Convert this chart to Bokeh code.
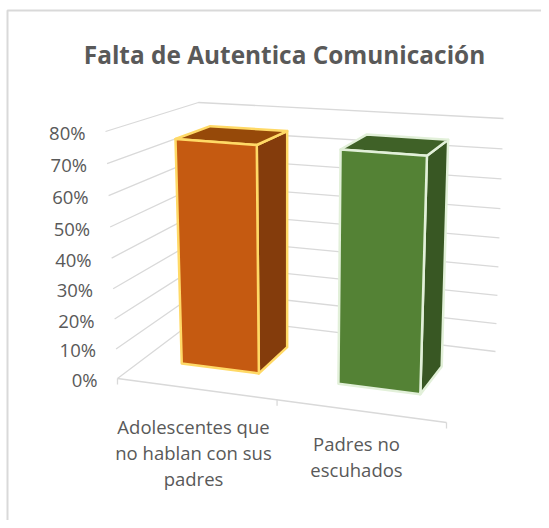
from bokeh.plotting import figure
from bokeh.embed import file_html
from bokeh.resources import INLINE
from bokeh.core.properties import value

title_text = "Falta de Autentica Comunicación"
categories = ["Adolescentes que\nno hablan con sus\npadres", "Padres no\nescuhados"]
values = [0.755, 0.76]
tick_values = [0, 0.1, 0.2, 0.3, 0.4, 0.5, 0.6, 0.7, 0.8]
tick_labels = ["0%", "10%", "20%", "30%", "40%", "50%", "60%", "70%", "80%"]
front_colors = ["#C55A11", "#548235"]
side_colors = ["#843C0C", "#385723"]
top_colors = ["#964909", "#3F6127"]
edge_colors = ["#FFD966", "#E2F0D9"]

FONT = "Open Sans"
TEXT = "#595959"
GRID = "#D9D9D9"
W, H = 541, 520
VMAX = 0.8

C = {(0, 0, 0): (117, 378), (1, 0, 0): (446, 422), (0, 1, 0): (200, 315.5), (1, 1, 0): (495, 351),
     (0, 0, 1): (105, 131), (1, 0, 1): (456, 158), (0, 1, 1): (198, 102), (1, 1, 1): (503, 118)}


def proj(u, d, val):
    # slight perspective foreshortening along the category and value directions
    u = u - 0.06 * u * (1 - u)
    w = val / VMAX
    w = w - 0.05 * w * (1 - w)
    x = y = 0.0
    for (a, b, c), (px, py) in C.items():
        f = (u if a else 1 - u) * (d if b else 1 - d) * (w if c else 1 - w)
        x += f * px
        y += f * py
    return x, y


p = figure(width=W, height=H, output_backend="svg", toolbar_location=None,
           x_range=(0, W), y_range=(H, 0),
           min_border=0, outline_line_color=None, x_axis_type=None, y_axis_type=None)
p.grid.visible = False
p.background_fill_color = "white"
p.border_fill_color = "white"


def line(pts, color=GRID, width=1.3):
    p.line([q[0] for q in pts], [q[1] for q in pts], line_color=color, line_width=width)


line([(7, 600), (7, 10), (600, 10)], GRID, 2)

for t in tick_values:
    line([proj(0, 0, t), proj(0, 1, t), proj(1, 1, t)])
line([proj(0, 0, 0), proj(1, 0, 0)])
for u in (0, 0.5, 1):
    a = proj(u, 0, 0)
    line([a, (a[0], a[1] + 6)])

N = len(values)
half = 0.25 / N
D0, D1 = 0.32, 0.72
for i, v in enumerate(values):
    c = (i + 0.5) / N
    u0, u1 = c - half, c + half
    faces = [
        ([proj(u1, D0, 0), proj(u1, D1, 0), proj(u1, D1, v), proj(u1, D0, v)], side_colors[i]),
        ([proj(u0, D0, v), proj(u1, D0, v), proj(u1, D1, v), proj(u0, D1, v)], top_colors[i]),
        ([proj(u0, D0, 0), proj(u1, D0, 0), proj(u1, D0, v), proj(u0, D0, v)], front_colors[i]),
    ]
    for pts, col in faces:
        p.patch([q[0] for q in pts], [q[1] for q in pts], fill_color=col,
                line_color=edge_colors[i], line_width=2.5, line_join="round")

for t, lab in zip(tick_values, tick_labels):
    a = proj(0, 0, t)
    p.text([a[0] - 20], [a[1] + 1], text=[lab], text_align="right",
           text_baseline="middle", text_font=value(FONT), text_font_size="18.5px", text_color=TEXT)

label_x = [193, 356]
label_first_y = [426, 443]
for i, cat in enumerate(categories):
    for j, ln in enumerate(cat.split("\n")):
        p.text([label_x[i]], [label_first_y[i] + j * 26], text=[ln], text_align="center",
               text_baseline="middle", text_font=value(FONT),
               text_font_size="18.5px", text_color=TEXT)

p.text([284], [54], text=[title_text], text_align="center", text_baseline="middle",
       text_font=value(FONT), text_font_style="bold", text_font_size="24.4px", text_color=TEXT)

open("out.html", "w").write(file_html(p, INLINE))
